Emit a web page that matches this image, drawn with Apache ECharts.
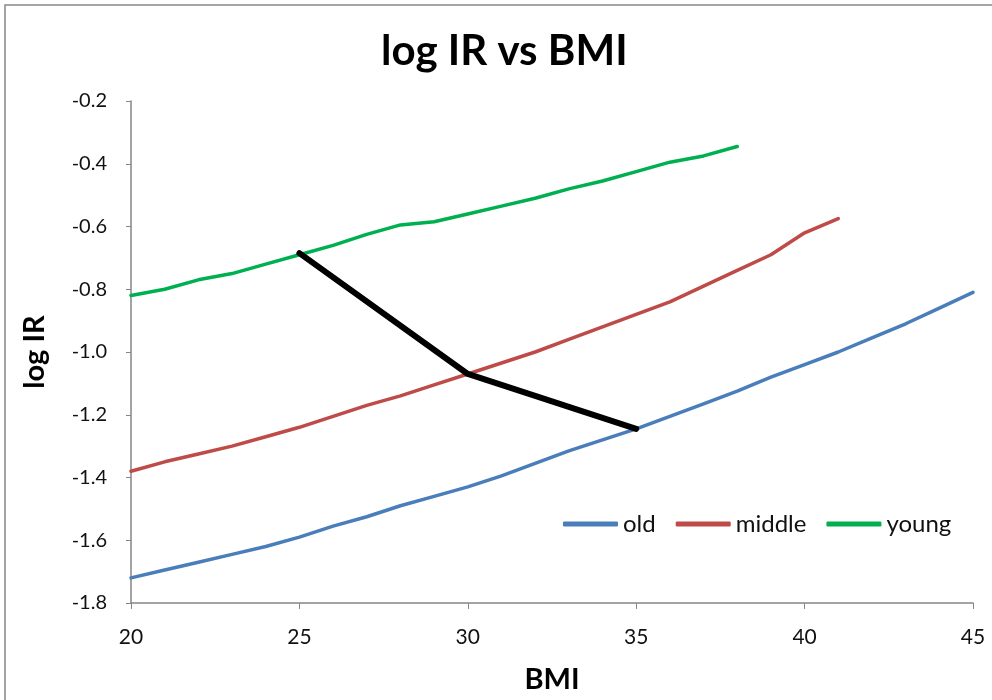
<!DOCTYPE html>
<html>
<head>
<meta charset="utf-8">
<script src="https://cdn.jsdelivr.net/npm/echarts@6/dist/echarts.min.js"></script>
<style>html,body{margin:0;padding:0;background:#fff}#c{width:992px;height:700px}</style>
</head>
<body>
<div id="c"></div>
<script>
const bmiOld = [20,21,22,23,24,25,26,27,28,29,30,31,32,33,34,35,36,37,38,39,40,41,42,43,44,45];
const oldVals = [-1.72,-1.695,-1.67,-1.645,-1.62,-1.59,-1.555,-1.525,-1.49,-1.46,-1.43,-1.395,-1.355,-1.315,-1.28,-1.245,-1.205,-1.165,-1.125,-1.08,-1.04,-1.0,-0.955,-0.91,-0.86,-0.81];
const bmiMiddle = [20,21,22,23,24,25,26,27,28,29,30,31,32,33,34,35,36,37,38,39,40,41];
const middleVals = [-1.38,-1.35,-1.325,-1.3,-1.27,-1.24,-1.205,-1.17,-1.14,-1.105,-1.07,-1.035,-1.0,-0.96,-0.92,-0.88,-0.84,-0.79,-0.74,-0.69,-0.62,-0.575];
const bmiYoung = [20,21,22,23,24,25,26,27,28,29,30,31,32,33,34,35,36,37,38];
const youngVals = [-0.82,-0.8,-0.77,-0.75,-0.72,-0.69,-0.66,-0.625,-0.595,-0.585,-0.56,-0.535,-0.51,-0.48,-0.455,-0.425,-0.395,-0.375,-0.345];
const bmiPath = [25,30,35];
const pathVals = [-0.685,-1.07,-1.245];
const seriesNames = ['old','middle','young'];

const zip = (xs, ys) => xs.map((x, i) => [x, ys[i]]);
const font = 'Lato, "Open Sans", sans-serif';
const chart = echarts.init(document.getElementById('c'));
chart.setOption({
  animation: false,
  title: {text: 'log IR vs BMI', left: 381, top: 30, padding: 0,
    textStyle: {fontFamily: font, fontSize: 42, fontWeight: 'bold', color: '#000'}},
  graphic: [{type: 'rect', shape: {x: 5, y: 5, width: 1000, height: 720},
    style: {fill: 'none', stroke: '#888', lineWidth: 1.5}, silent: true}],
  grid: {left: 131, right: 19, top: 101, bottom: 97},
  legend: {data: seriesNames, left: 563, top: 512, padding: 0, itemWidth: 55, itemHeight: 5, icon: 'roundRect',
    itemGap: 20, textStyle: {fontFamily: font, fontSize: 24, color: '#111'}},
  xAxis: {type: 'value', min: 20, max: 45, interval: 5, name: 'BMI', nameLocation: 'middle', nameGap: 62,
    nameTextStyle: {fontFamily: font, fontSize: 29, fontWeight: 'bold', color: '#000'},
    axisLine: {show: true, lineStyle: {color: '#868686', width: 1.5}},
    axisTick: {show: true, length: 6, lineStyle: {color: '#868686'}},
    axisLabel: {fontFamily: font, fontSize: 21, color: '#111', margin: 24},
    splitLine: {show: false}},
  yAxis: {type: 'value', min: -1.8, max: -0.2, interval: 0.2, name: 'log IR', nameLocation: 'middle', nameGap: 82,
    nameTextStyle: {fontFamily: font, fontSize: 29, fontWeight: 'bold', color: '#000'},
    axisLine: {show: true, lineStyle: {color: '#868686', width: 1.5}},
    axisTick: {show: true, length: 5, lineStyle: {color: '#868686'}},
    axisLabel: {fontFamily: font, fontSize: 20, color: '#111', margin: 24, formatter: v => v.toFixed(1)},
    splitLine: {show: false}},
  series: [
    {name: 'old', type: 'line', data: zip(bmiOld, oldVals), showSymbol: false, color: '#4A7EBB',
      lineStyle: {width: 3.5, cap: 'round', join: 'round'}},
    {name: 'middle', type: 'line', data: zip(bmiMiddle, middleVals), showSymbol: false, color: '#BE4B48',
      lineStyle: {width: 3.5, cap: 'round', join: 'round'}},
    {name: 'young', type: 'line', data: zip(bmiYoung, youngVals), showSymbol: false, color: '#00B050',
      lineStyle: {width: 3.5, cap: 'round', join: 'round'}},
    {name: 'path', type: 'line', data: zip(bmiPath, pathVals), showSymbol: false, color: '#000',
      lineStyle: {width: 6, cap: 'round', join: 'round'}, z: 5}
  ]
});
</script>
</body>
</html>
